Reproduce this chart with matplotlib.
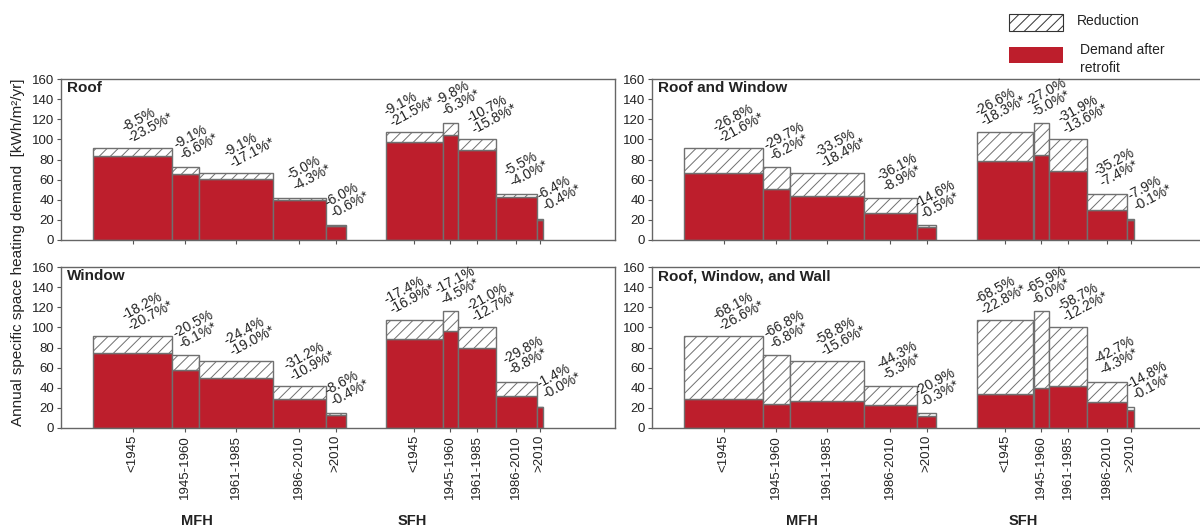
import matplotlib
matplotlib.use("Agg")
import matplotlib.pyplot as plt
from matplotlib.patches import Rectangle

plt.rcParams["font.family"] = ["Liberation Sans", "DejaVu Sans"]
plt.rcParams["hatch.linewidth"] = 0.7
plt.rcParams["hatch.color"] = "#333333"

# construction periods and bar widths (share of heated floor area)
periods = ["<1945", "1945-1960", "1961-1985", "1986-2010", ">2010"]
mfh_widths = [79, 26.5, 74, 53.5, 19.5]
sfh_widths = [56.5, 15, 38.5, 40.5, 6.7]

# demand before retrofit [kWh/m2/yr]
mfh_baseline = [91.5, 72.3, 66.3, 41.4, 14.6]
sfh_baseline = [107.4, 116.0, 100.4, 45.7, 21.3]

# (reduction of demand in %, reduction share in %*) per measure
roof_mfh = [(-8.5, -23.5), (-9.1, -6.6), (-9.1, -17.1), (-5.0, -4.3), (-6.0, -0.6)]
roof_sfh = [(-9.1, -21.5), (-9.8, -6.3), (-10.7, -15.8), (-5.5, -4.0), (-6.4, -0.4)]
rw_mfh = [(-26.8, -21.6), (-29.7, -6.2), (-33.5, -18.4), (-36.1, -8.9), (-14.6, -0.5)]
rw_sfh = [(-26.6, -18.3), (-27.0, -5.0), (-31.9, -13.6), (-35.2, -7.4), (-7.9, -0.1)]
win_mfh = [(-18.2, -20.7), (-20.5, -6.1), (-24.4, -19.0), (-31.2, -10.9), (-8.6, -0.4)]
win_sfh = [(-17.4, -16.9), (-17.1, -4.5), (-21.0, -12.7), (-29.8, -8.8), (-1.4, -0.0)]
rww_mfh = [(-68.1, -26.6), (-66.8, -6.8), (-58.8, -15.6), (-44.3, -5.3), (-20.9, -0.3)]
rww_sfh = [(-68.5, -22.8), (-65.9, -6.0), (-58.7, -12.2), (-42.7, -4.3), (-14.8, -0.1)]

panels = [
    ("Roof", roof_mfh, roof_sfh),
    ("Roof and Window", rw_mfh, rw_sfh),
    ("Window", win_mfh, win_sfh),
    ("Roof, Window, and Wall", rww_mfh, rww_sfh),
]

RED = "#BD1E2C"
EDGE = "#707070"
TEXT = "#222222"
W, H = 1200, 530

# label nudges in pixels (x right, y up from bar top)
label_dx = {"MFH": [15, 11, 14, 10, 11], "SFH": [-5, 8, 15, 10, 19]}
label_dy = 26
group_x = [(136, 351), (150, 371)]

fig = plt.figure(figsize=(12, 5.3), dpi=100)

ax_boxes = [
    (61, 79), (652, 79),
    (61, 267), (652, 267),
]


def draw_group(ax, start, widths, baseline, pcts, dxs):
    x = start
    for w, base, (p1, p2), dx in zip(widths, baseline, pcts, dxs):
        after = base * (1 + p1 / 100)
        ax.bar(x, after, width=w, align="edge", color=RED,
               edgecolor=EDGE, linewidth=1.0, zorder=2)
        ax.bar(x, base - after, bottom=after, width=w, align="edge",
               color="white", edgecolor=EDGE, hatch="///", linewidth=1.0,
               zorder=2)
        ax.annotate(f"{p1:.1f}%\n{p2:.1f}%*", xy=(x + w / 2, base),
                    xytext=(dx * 0.72, label_dy * 0.72),
                    textcoords="offset points", ha="center", va="center",
                    rotation=28, fontsize=10, color=TEXT,
                    multialignment="left", linespacing=0.85)
        x += w
    return [start + sum(widths[:i]) + widths[i] / 2 for i in range(len(widths))]


for i, (title, mfh, sfh) in enumerate(panels):
    px, py = ax_boxes[i]
    ax = fig.add_axes([px / W, 1 - (py + 161) / H, 554 / W, 161 / H])
    c1 = draw_group(ax, 32, mfh_widths, mfh_baseline, mfh, label_dx["MFH"])
    c2 = draw_group(ax, 325, sfh_widths, sfh_baseline, sfh, label_dx["SFH"])
    ax.set_xlim(0, 554)
    ax.set_ylim(0, 160)
    ax.set_yticks(range(0, 161, 20))
    ax.set_xticks(c1 + c2)
    for s in ax.spines.values():
        s.set_color("#666666")
        s.set_linewidth(1.0)
    ax.tick_params(axis="both", direction="out", length=3, width=0.8,
                   colors="#555555", labelcolor=TEXT, labelsize=9.5, pad=2)
    ax.text(0.01, 0.985, title, transform=ax.transAxes, ha="left", va="top",
            fontsize=11, fontweight="bold", color=TEXT)
    if i >= 2:
        ax.set_xticklabels(periods * 2, rotation=90, fontsize=9.5)
        gx = group_x[i - 2]
        for xg, name in zip(gx, ["MFH", "SFH"]):
            ax.text(xg, -(521 - 428) / 161, name, transform=ax.get_xaxis_transform(),
                    ha="center", va="center", fontsize=10.5, fontweight="bold",
                    color=TEXT)
    else:
        ax.set_xticklabels([])

fig.text(18 / W, 1 - 252 / H, "Annual specific space heating demand  [kWh/m\u00b2/yr]",
         rotation=90, ha="center", va="center", fontsize=11, color=TEXT)

# legend
fig.patches.append(Rectangle((1009 / W, 1 - 31 / H), 54 / W, 17 / H,
                             transform=fig.transFigure, facecolor="white",
                             edgecolor="#333333", hatch="///", linewidth=0.8))
fig.patches.append(Rectangle((1009 / W, 1 - 63 / H), 54 / W, 16 / H,
                             transform=fig.transFigure, facecolor=RED,
                             edgecolor="none"))
fig.text(1077 / W, 1 - 21 / H, "Reduction", ha="left", va="center",
         fontsize=10, color=TEXT)
fig.text(1080 / W, 1 - 59 / H, "Demand after\nretrofit", ha="left", va="center",
         fontsize=10, color=TEXT, linespacing=1.3)

fig.savefig("out.png", dpi=100)
